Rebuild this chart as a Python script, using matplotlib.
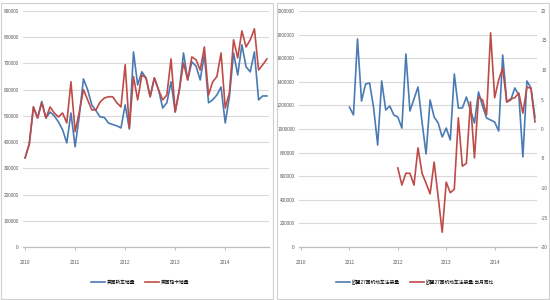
import matplotlib
matplotlib.use("Agg")
import matplotlib.pyplot as plt
from matplotlib.patches import Rectangle
from matplotlib import font_manager
import numpy as np


def have(name):
    try:
        font_manager.findfont(name, fallback_to_default=False)
        return True
    except Exception:
        return False


NUMFONT = [f for f in ['Liberation Sans Narrow', 'Liberation Sans', 'DejaVu Sans'] if have(f)][:1]
plt.rcParams['font.family'] = NUMFONT + ['Noto Sans CJK SC', 'DejaVu Sans']

# ---------------- data ----------------
months = 59  # 2010-01 .. 2014-11
year_labels = ['2010', '2011', '2012', '2013', '2014']
year_pos = [0, 12, 24, 36, 48]

us_car = [340000, 392000, 534000, 492000, 555000, 492000, 515000, 500000, 477000, 447000,
          397000, 511000, 382000, 500000, 641000, 600000, 542000, 520000, 496000, 494000,
          473000, 467000, 462000, 454000, 542000, 450000, 744000, 618000, 668000, 645000,
          573000, 645000, 600000, 530000, 550000, 630000, 515000, 600000, 740000, 637000,
          706000, 690000, 637000, 733000, 550000, 561000, 580000, 610000, 473000, 573000,
          740000, 656000, 771000, 687000, 668000, 744000, 561000, 576000, 576000]
us_truck = [340000, 392000, 534000, 492000, 550000, 492000, 534000, 511000, 496000, 511000,
            473000, 630000, 440000, 515000, 600000, 561000, 523000, 523000, 553000, 568000,
            573000, 573000, 550000, 534000, 695000, 454000, 650000, 561000, 656000, 645000,
            573000, 645000, 600000, 561000, 580000, 717000, 515000, 600000, 702000, 637000,
            725000, 714000, 675000, 763000, 580000, 630000, 650000, 740000, 530000, 588000,
            790000, 721000, 824000, 763000, 790000, 832000, 675000, 695000, 717000]

eu_reg_start = 12
eu_reg = [1186000, 1119000, 1763000, 1237000, 1381000, 1390000, 1180000, 864000, 1407000, 1161000,
          1195000, 1119000, 1102000, 1008000, 1636000, 1153000, 1254000, 1356000, 1059000, 788000,
          1246000, 1102000, 1051000, 932000, 1008000, 907000, 1466000, 1178000, 1178000, 1271000,
          1161000, 1050000, 1314000, 1195000, 1093000, 1076000, 1059000, 983000, 1627000, 1229000,
          1246000, 1348000, 1288000, 763000, 1407000, 1348000, 1100000]
eu_yoy_start = 24
eu_yoy = [-6.6, -9.5, -7.5, -7.5, -9.5, -3.2, -7.5, -9.2, -11.0, -5.6,
          -11.5, -17.5, -9.0, -10.8, -10.2, 1.9, -6.3, -5.8, 4.6, -4.9,
          5.4, 4.9, 2.4, 16.3, 5.3, 8.3, 10.3, 4.6, 5.1, 5.3,
          6.1, 2.7, 7.1, 6.9, 1.2]

left_names = ['美国轿车销量', '美国轻卡销量']
right_names = ['欧盟27国机动车注册量', '欧盟27国机动车注册量:当月同比']

BLUE = '#4a7ab4'
RED = '#be4b48'
GRID = '#d9d9d9'
AXIS = '#bfbfbf'
TXT = '#595959'
FS = 3.4
LFS = 3.4
LW = 1.2

fig = plt.figure(figsize=(5.5, 3.0), dpi=100)
W, H = 550.0, 300.0

# panel borders
for (x0, x1) in [(1, 273), (277, 549)]:
    fig.patches.append(Rectangle((x0 / W, 1 / H), (x1 - x0) / W, 296 / H,
                                 transform=fig.transFigure, fill=False,
                                 edgecolor='#d0d0d0', linewidth=0.8))

bottom = (300 - 247) / H
top = (300 - 11) / H


def style(ax, ymax, step):
    ax.set_xlim(-0.5, months - 0.5)
    ax.set_ylim(0, ymax)
    ticks = np.arange(0, ymax + 1, step)
    ax.set_yticks(ticks)
    ax.set_yticklabels([str(int(v)) for v in ticks])
    ax.set_xticks(year_pos)
    ax.set_xticklabels(year_labels)
    ax.grid(axis='y', color=GRID, linewidth=0.8)
    ax.set_axisbelow(True)
    for s in ['top', 'right', 'left']:
        ax.spines[s].set_visible(False)
    ax.spines['bottom'].set_color(AXIS)
    ax.spines['bottom'].set_linewidth(0.9)
    ax.tick_params(axis='y', length=0, labelsize=FS, labelcolor=TXT, pad=3)
    ax.tick_params(axis='x', length=2.5, color=AXIS, labelsize=FS, labelcolor=TXT, pad=7)
    ax.set_facecolor('none')


# ---------------- left chart ----------------
axL = fig.add_axes([23 / W, bottom, (269 - 23) / W, top - bottom])
x = np.arange(months)
axL.plot(x, us_car, color=BLUE, linewidth=LW, label=left_names[0])
axL.plot(x, us_truck, color=RED, linewidth=LW, label=left_names[1])
style(axL, 900000, 100000)
axL.legend(loc='center', bbox_to_anchor=(140 / W, (300 - 282) / H),
           bbox_transform=fig.transFigure, ncol=2, frameon=False,
           fontsize=LFS, handlelength=3.0, columnspacing=2.0, handletextpad=0.4)

# ---------------- right chart ----------------
axR = fig.add_axes([299 / W, bottom, (537 - 299) / W, top - bottom])
xr = np.arange(eu_reg_start, eu_reg_start + len(eu_reg))
xy = np.arange(eu_yoy_start, eu_yoy_start + len(eu_yoy))
l1, = axR.plot(xr, eu_reg, color=BLUE, linewidth=LW, label=right_names[0])
style(axR, 2000000, 200000)
axR2 = axR.twinx()
l2, = axR2.plot(xy, eu_yoy, color=RED, linewidth=LW, label=right_names[1])
axR2.set_ylim(-20, 20)
yt = np.arange(-20, 21, 5)
axR2.set_yticks(yt)
axR2.set_yticklabels([str(int(v)) for v in yt])
for s in ['top', 'right', 'left', 'bottom']:
    axR2.spines[s].set_visible(False)
axR2.tick_params(axis='y', length=0, labelsize=FS, labelcolor=TXT, pad=3)
axR.legend([l1, l2], right_names, loc='center', bbox_to_anchor=(415 / W, (300 - 282) / H),
           bbox_transform=fig.transFigure, ncol=2, frameon=False,
           fontsize=LFS, handlelength=3.0, columnspacing=2.0, handletextpad=0.4)

fig.savefig('out.png', dpi=100)
